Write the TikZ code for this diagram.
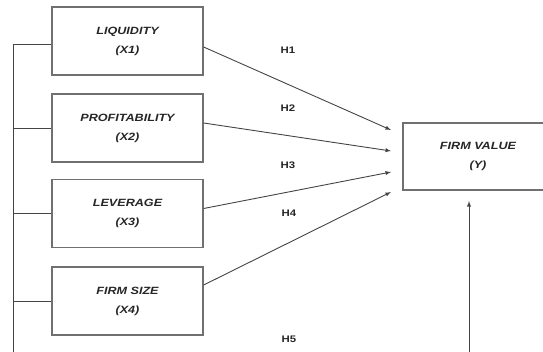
\documentclass[tikz,border=0pt]{standalone}
\usepackage{fontspec}
\setsansfont[FakeStretch=1.2]{Liberation Sans}
\usepackage{xcolor}
\usetikzlibrary{arrows.meta}
\tikzset{>=latex}
\definecolor{boxgray}{HTML}{707070}
\definecolor{linegray}{HTML}{444444}
\tikzset{
  var/.style={draw=boxgray, line width=1.3pt, minimum width=151pt, minimum height=68pt,
    align=center, text=black!85, font=\sffamily\bfseries\itshape\fontsize{10.5}{19}\selectfont},
  hyp/.style={font=\sffamily\bfseries\fontsize{9.5}{10}\selectfont, text=black!85},
  link/.style={draw=linegray, line width=0.9pt}
}

\begin{document}
\begin{tikzpicture}[x=1pt,y=-1pt]
\useasboundingbox (0,0) rectangle (543,351);
\clip (0,0) rectangle (543,351);
% independent variables
\node[var] (liq) at (127.5,41) {LIQUIDITY\\(X1)};
\node[var] (prof) at (127.5,128) {PROFITABILITY\\(X2)};
\node[var] (lev) at (127.5,213.5) {LEVERAGE\\(X3)};
\node[var] (size) at (127.5,301) {FIRM SIZE\\(X4)};
% dependent variable
\node[var, minimum width=150pt, minimum height=67pt] (fv) at (478,156.5) {FIRM VALUE\\(Y)};
% arrow ends
\coordinate (e1) at (391,130);
\coordinate (e2) at (391,151);
\coordinate (e3) at (391,172);
\coordinate (e4) at (391,192);
\coordinate (spine) at (13.5,44);
\coordinate (spineend) at (13.5,360);
\coordinate (h5start) at (469,360);
\coordinate (h5end) at (469,201);
% left bracket
\draw[link] (spine) -- (spineend);
\draw[link] (spine) -- (liq.west |- spine);
\draw[link] (prof.west -| spine) -- (prof.west);
\draw[link] (lev.west -| spine) -- (lev.west);
\draw[link] (size.west -| spine) -- (size.west);
% hypotheses
\draw[link,->] ([yshift=-6pt]liq.east) -- (e1);
\draw[link,->] ([yshift=5pt]prof.east) -- (e2);
\draw[link,->] ([yshift=5pt]lev.east) -- (e3);
\draw[link,->] ([yshift=16pt]size.east) -- (e4);
\draw[link,->] (h5start) -- (h5end);
\node[hyp] (h1) at (288,50) {H1};
\node[hyp] (h2) at (288,108) {H2};
\node[hyp] (h3) at (288,165) {H3};
\node[hyp] (h4) at (289,213) {H4};
\node[hyp] (h5) at (289,339) {H5};
\end{tikzpicture}
\end{document}
